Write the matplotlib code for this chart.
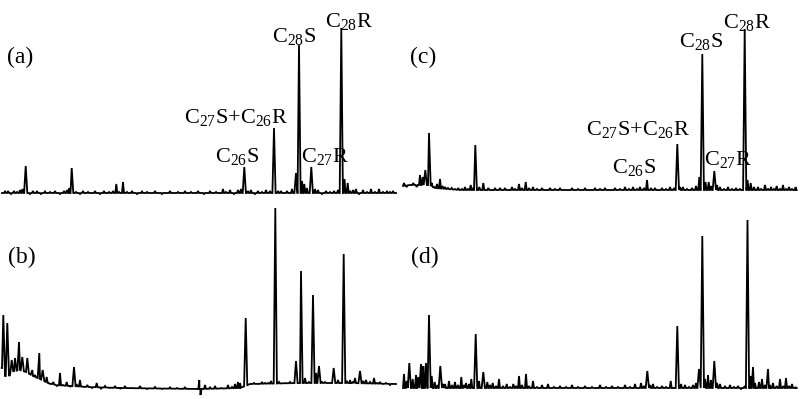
import numpy as np
import matplotlib
matplotlib.use('Agg')
import matplotlib.pyplot as plt

plt.rcParams['font.family'] = 'Liberation Serif'
plt.rcParams['mathtext.fontset'] = 'custom'
plt.rcParams['mathtext.rm'] = 'Liberation Serif'
plt.rcParams['mathtext.it'] = 'Liberation Serif:italic'

# retention position (panel units) and intensity of peaks
# (a)
pk_x_a = [5, 8, 11, 14, 17, 20, 22.5, 25.7, 30, 33, 37, 41, 45, 50, 55, 60, 64, 67, 69.5,
          71.7, 76, 80, 83, 88, 95, 100, 104, 109, 113, 116.3, 119, 123, 127, 132, 137,
          142, 147, 155, 162, 170, 178, 185, 191, 198, 204, 210, 216, 223, 226, 230,
          234, 238, 241, 244.3, 248, 251, 255, 258, 262, 266, 270, 274, 278, 281, 287,
          292, 296, 299, 302, 304.3, 307, 311.3, 315, 318, 322, 326, 330, 334, 338,
          341.3, 344.5, 347.7, 350, 353, 356, 359, 363, 367, 371, 375, 379, 383, 387,
          390, 393]
pk_h_a = [1.5, 2, -1, 2, 1, 3, 4, 27, -1, 2, 2, -1, 1.5, 1, 2, -1, 2, 3, 5,
          25, 1, -1, 2, 1, 2, -1, 2, 1, 2, 9, 1, 11, 1, 2, -1,
          1.5, 1, 2, -1, 2, 1, 2, 1, 2, -1, 2, 1, 4, 1, 3,
          -1, 3, 4, 26, 2, 3, -1, 2, 1, 3, 2, 65, 2, 2, 2,
          4, 20, 148, 12, 9, 5, 26, 4, 3, -1, 2, 1, 2, 3,
          165, 14, 10, 2, 3, 4, -1, 3, 1, 4, 1, 4, 1, 2,
          1, 2]
base_x_a = [2, 396]
base_y_a = [0, 0]

# (b)
pk_x_b = [3.3, 7.3, 11.7, 15, 19, 22.3, 27.3, 32.3, 35, 39.3, 42.7, 46.7, 50, 53.3, 57,
          60, 63, 66.7, 70, 74, 77, 80, 84, 87.3, 92, 96.7, 101, 105, 110, 115, 120,
          125, 132, 140, 147, 155, 162, 170, 177, 185, 192, 199.3, 200.5, 205, 210,
          215, 221, 228, 232, 235, 238, 240, 245.7, 250, 254, 258, 262, 265, 268,
          271, 275.3, 279, 285, 290, 293, 296, 301, 305, 309, 313, 316, 319, 322,
          325, 329, 333.7, 338, 343.7, 347, 350, 353, 355, 360, 363, 366, 370, 374,
          377, 380, 383, 386, 390, 393]
pk_h_b = [73, 65, 28, 30, 46, 31, 30, 18, 13, 35, 18, 11, 4, 6, 2,
          15, 3, 6, 1, 21, 3, 8, 1, 3, 0, 5, -1, 2, 0, 2, -1,
          2, 0, 2, -1, 1, -1, 1, 0, 1, -1, 8, -7, 3, 1,
          2, 0, 3, 1, 4, 6, 5, 70, 4, 5, 4, 6, 5, 5,
          7, 180, 6, 5, 6, 5, 27, 117, 10, 6, 93, 15, 22, 6,
          6, 5, 20, 8, 134, 7, 8, 6, 10, 17, 7, 8, 6, 10,
          5, 6, 4, 5, 3, 4]
base_x_b = [2, 5, 9, 14, 20, 26, 33, 40, 48, 56, 70, 90, 120, 200, 240, 250, 300, 350, 396]
base_y_b = [20, 12, 12, 17, 18, 16, 12, 9, 5, 3, 2, 1, 0, -1, 0, 4, 5, 5, 4]

# (c)
pk_x_c = [4, 6.7, 10, 13.3, 16.7, 20, 22.7, 25.3, 29, 31.7, 34.3, 37, 40, 42.5, 45,
          48, 51.7, 55, 58.3, 62, 65, 68, 70.7, 73, 75.3, 79.3, 83.3, 88.3, 92, 95,
          100, 105, 108, 112, 115, 119, 122, 125.7, 129, 133, 137, 142, 146, 150, 155,
          160, 166, 172, 178, 185, 190, 195, 200, 205, 210, 215, 220, 225, 229, 233,
          237, 240, 244, 247, 251, 255, 262, 266, 270, 274, 277.3, 280, 283, 287, 292,
          296, 299.3, 302.3, 305.5, 308.7, 311, 314.3, 317, 320, 324, 328, 332, 336,
          340, 344.7, 347.5, 350.7, 354, 358, 361, 365, 368, 371, 374, 376.7, 380,
          383, 386, 389, 392, 395.7]
pk_h_c = [7, 3, 5, 7, 3, 15, 13, 20, 57, 7, 3, 6, 11, 4, 3,
          2, 2, 1, 2, 1, 3, 1, 5, 2, 45, 3, 7, 2, 0, 2,
          2, 2, 0, 3, 1, 6, 2, 8, 2, 3, 1, 2, 0, 2, 1,
          2, 0, 2, 1, 2, 0, 2, 1, 2, 0, 2, 1, 3, 1, 3,
          1, 3, 2, 10, 2, 2, 2, 1, 3, 2, 46, 3, 3, 1, 2,
          4, 13, 136, 8, 8, 4, 19, 5, 3, 1, 3, 1, 2,
          1, 161, 10, 7, 3, 3, 1, 5, 1, 3, 1, 4, 1,
          5, 1, 3, 1, 3]
base_x_c = [3, 10, 28, 35, 60, 396]
base_y_c = [4, 5, 5, 2, 0, 0]

# (d)
pk_x_d = [4, 6.7, 9.3, 12.7, 16, 18.3, 21, 23.3, 26, 29, 31.7, 34.7, 37.5, 40.3, 43, 45,
          49, 52, 55, 58, 61.3, 64, 66, 69, 71.3, 75.7, 79, 83.3, 87.3, 90, 92.7, 96,
          99, 103, 106.7, 110, 113.3, 116, 119, 122, 126, 129, 133, 137, 142, 148,
          154, 160, 166, 172, 178, 185, 192, 200, 206, 212, 218, 225, 230, 235, 241,
          244, 247.3, 250, 253, 257, 262, 266, 270.7, 277.3, 281, 285, 289, 293, 296,
          299, 302.3, 305, 308, 311, 314.3, 317, 320, 325, 330, 334, 338, 341, 344.7,
          347.5, 350.7, 353, 355, 359, 362, 365, 368, 370, 373, 376.7, 380, 383.3,
          386, 389, 392, 395.7]
pk_h_d = [14, 7, 25, 9, 13, 11, 24, 22, 25, 73, 12, 6, 3, 22, 4, 4,
          7, 3, 6, 3, 11, 3, 5, 4, 9, 54, 7, 16, 6, 3, 5, 2,
          9, 2, 4, 1, 4, 2, 12, 3, 14, 2, 7, 1, 3, 4,
          1, 2, 1, 3, 1, 2, 1, 3, 1, 2, 1, 3, 1, 4, 5,
          2, 17, 3, 4, 1, 2, 1, 7, 62, 4, 3, 1, 3, 5,
          19, 152, 9, 13, 8, 27, 5, 4, 2, 3, 1, 2, -1, 2,
          168, 12, 21, 5, 6, 9, 3, 19, 3, 5, 2, 9, 2, 10,
          2, 4, 1, 6]
base_x_d = [3, 396]
base_y_d = [0, 0]

panel_tags = ['(a)', '(b)', '(c)', '(d)']
label_text = [r'C$_{28}$R', r'C$_{28}$S', r'C$_{27}$S+C$_{26}$R', r'C$_{26}$S', r'C$_{27}$R']
label_xy_a = [(349, 166), (294, 151), (236, 70), (237, 31), (325, 31)]
label_xy_c = [(347, 162), (301, 143), (238, 55), (234, 17), (328, 25)]


def trace(base_x, base_y, pk_x, pk_h):
    xs = list(base_x)
    ys = list(base_y)
    for p, h in zip(pk_x, pk_h):
        w = 1.6 if h > 15 else 1.0
        for xx, yy in [(p - w, None), (p, h), (p + w, None)]:
            xs.append(xx)
            ys.append(np.interp(xx, base_x, base_y) if yy is None else yy)
    xs = np.array(xs)
    ys = np.array(ys)
    order = np.argsort(xs, kind='stable')
    return xs[order], ys[order]


fig = plt.figure(figsize=(8, 3.99), dpi=100)
W, H = 800, 399

# panel: (data, left px, baseline px, tag, tag pos, labels)
panels = [
    (base_x_a, base_y_a, pk_x_a, pk_h_a, 0, 193, panel_tags[0], (20, 130), label_xy_a),
    (base_x_b, base_y_b, pk_x_b, pk_h_b, 0, 388, panel_tags[1], (22, 125), None),
    (base_x_c, base_y_c, pk_x_c, pk_h_c, 400, 190, panel_tags[2], (23, 127), label_xy_c),
    (base_x_d, base_y_d, pk_x_d, pk_h_d, 400, 388, panel_tags[3], (25, 125), None),
]

for bx, by, px, ph, left, base, tag, tag_xy, labs in panels:
    top = 0 if base < 200 else 199.5
    bottom = top + 199.5
    ax = fig.add_axes([left / W, 1 - bottom / H, 400 / W, 199.5 / H])
    x, y = trace(bx, by, px, ph)
    ax.plot(x, y, color='black', lw=1.3, solid_joinstyle='miter')
    ax.set_xlim(0, 400)
    ax.set_ylim(base - bottom, base - top)
    ax.axis('off')
    ax.text(tag_xy[0], tag_xy[1], tag, fontsize=17, ha='center', va='baseline')
    if labs is not None:
        for txt, (lx, ly) in zip(label_text, labs):
            ax.text(lx, ly, txt, fontsize=16, ha='center', va='baseline')

fig.savefig('out.png', dpi=100, facecolor='white')
